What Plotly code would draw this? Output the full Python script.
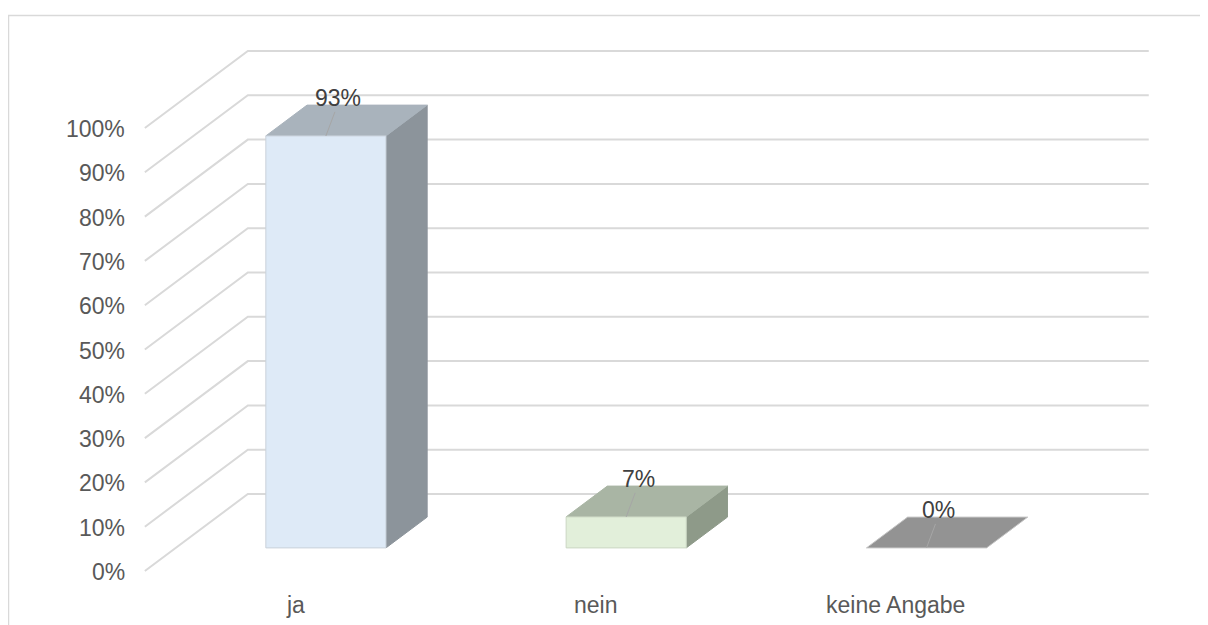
import plotly.graph_objects as go

# ---- data ----
categories = ["ja", "nein", "keine Angabe"]
values = [93, 7, 0]                      # percent
value_labels = ["93%", "7%", "0%"]
tick_values = [0, 10, 20, 30, 40, 50, 60, 70, 80, 90, 100]
tick_labels = ["0%", "10%", "20%", "30%", "40%", "50%", "60%", "70%", "80%", "90%", "100%"]

front_colors = ["#DEEAF7", "#E2EFDA", "#D0D0D0"]
top_colors = ["#A9B3BC", "#A9B5A4", "#939393"]
side_colors = ["#8C949B", "#8E9A89", "#7F7F7F"]
edge_colors = ["#C9D1DA", "#CAD6C3", "#C4C4C4"]

# ---- scale / projection ----
# page body has an 8px margin, so the figure is 8px smaller than the window
W, H = 1200, 617
SX = 300.3          # px per category (front plane)
SY = 4.43           # px per percent
X0_PX, Y0_PX = 287, 563   # figure pixel of category 0 / value 0 on the front plane
DX = 103 / SX       # depth offset in category units
DY = 77 / SY        # depth offset in percent units
HALF = 0.2          # half bar width (category units)
Z0, Z1 = 0.3, 0.7   # bar depth span

x_range = [-X0_PX / SX, (W - X0_PX) / SX]
y_range = [(Y0_PX - H) / SY, Y0_PX / SY]


def proj(x, v, z):
    return x + z * DX, v + z * DY


fig = go.Figure()
GRID = "#D9D9D9"
n = len(categories)
left, right = -0.5, n - 0.5

# gridlines: left side wall + back wall
for tv in tick_values:
    a = proj(left, tv, 0); b = proj(left, tv, 1); c = proj(right, tv, 1)
    fig.add_trace(go.Scatter(x=[a[0], b[0], c[0]], y=[a[1], b[1], c[1]], mode="lines",
                             line=dict(color=GRID, width=2),
                             hoverinfo="skip"))


def poly(pts, fill, edge):
    xs = [p[0] for p in pts] + [pts[0][0]]
    ys = [p[1] for p in pts] + [pts[0][1]]
    fig.add_trace(go.Scatter(x=xs, y=ys, mode="lines", fill="toself",
                             fillcolor=fill, line=dict(color=edge, width=1),
                             hoverinfo="skip"))


for i, v in enumerate(values):
    xl, xr = i - HALF, i + HALF
    # right side
    if v > 0:
        poly([proj(xr, 0, Z0), proj(xr, v, Z0), proj(xr, v, Z1), proj(xr, 0, Z1)],
             side_colors[i], side_colors[i])
    # top
    poly([proj(xl, v, Z0), proj(xr, v, Z0), proj(xr, v, Z1), proj(xl, v, Z1)],
         top_colors[i], top_colors[i] if v > 0 else edge_colors[i])
    # front
    if v > 0:
        poly([proj(xl, 0, Z0), proj(xr, 0, Z0), proj(xr, v, Z0), proj(xl, v, Z0)],
             front_colors[i], edge_colors[i])
    # leader line + data label
    ax, ay = proj(i, v, Z0)
    fig.add_trace(go.Scatter(x=[ax, ax + 9 / SX], y=[ay, ay + 24 / SY], mode="lines",
                             line=dict(color="#A6A6A6", width=1), hoverinfo="skip"))
    fig.add_annotation(x=ax, y=ay, text=value_labels[i], showarrow=False,
                       xshift=12, yshift=38, xanchor="center", yanchor="middle",
                       font=dict(size=23, color="#404040"))

# value-axis labels
for tv, tl in zip(tick_values, tick_labels):
    px, py = proj(left, tv, 0)
    fig.add_annotation(x=px, y=py, text=tl, showarrow=False, xanchor="right",
                       yanchor="middle", xshift=-18, yshift=-1,
                       font=dict(size=23, color="#595959"))

# category labels
for i, c in enumerate(categories):
    fig.add_annotation(x=i, y=0, text=c, showarrow=False, xanchor="center",
                       yanchor="middle", yshift=-34,
                       font=dict(size=23, color="#595959"))

# chart-area border (extends past the visible window on right/bottom)
fig.add_shape(type="rect", xref="paper", yref="paper",
              x0=0.5 / W, x1=1.02, y0=-0.05, y1=1 - 7.5 / H,
              line=dict(color="#D9D9D9", width=1.5), fillcolor="rgba(0,0,0,0)",
              layer="below")

fig.update_layout(
    width=W, height=H, autosize=False,
    margin=dict(l=0, r=0, t=0, b=0, pad=0),
    paper_bgcolor="white", plot_bgcolor="white",
    showlegend=False,
    font=dict(family="Liberation Sans, Arial, sans-serif"),
    xaxis=dict(range=x_range, visible=False, fixedrange=True),
    yaxis=dict(range=y_range, visible=False, fixedrange=True),
)

fig.write_html("out.html")
